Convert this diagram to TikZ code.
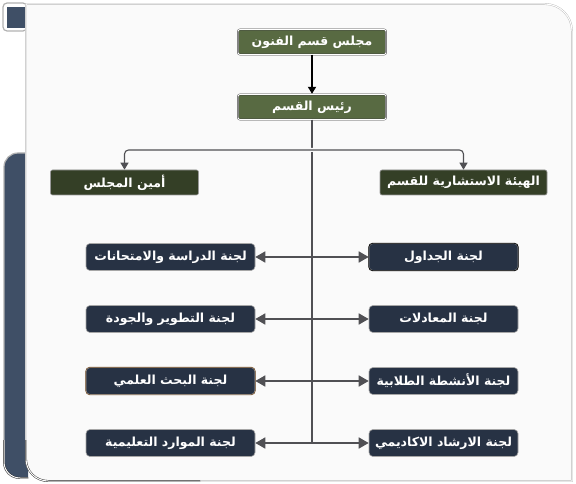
\documentclass[tikz,border=0pt]{standalone}
\usepackage{fontspec}
\newfontfamily\arabicfont[Script=Arabic,BoldFont={DejaVu Sans Bold}]{DejaVu Sans}
\usetikzlibrary{arrows.meta}
\TeXXeTstate=1
\definecolor{boardgreen}{RGB}{88,106,66}
\definecolor{darkolive}{RGB}{52,63,38}
\definecolor{navybox}{RGB}{39,50,68}
\definecolor{panelblue}{RGB}{63,79,102}
\definecolor{linegray}{RGB}{80,80,84}
\definecolor{pagewhite}{RGB}{250,250,250}
\tikzset{>=Triangle}
\tikzset{
  board/.style={draw=black!75, double=white, double distance=0.9pt, fill=boardgreen,
    rounded corners=2pt, minimum width=148pt, minimum height=25pt, text=white,
    font=\arabicfont\bfseries\fontsize{12.5}{14}\selectfont},
  office/.style={board, fill=darkolive, draw=black!40, double=none, line width=0.6pt},
  committee/.style={fill=navybox, draw=gray!70, line width=0.6pt, rounded corners=4pt,
    minimum width=149pt, minimum height=27pt, text=white,
    font=\arabicfont\bfseries\fontsize{12.5}{14}\selectfont},
  link/.style={draw=linegray, line width=1.6pt, {Triangle[length=10pt,width=11pt]}-{Triangle[length=10pt,width=11pt]}}
}
\newcommand{\ar}[1]{\beginR #1\endR}
\begin{document}
\begin{tikzpicture}[x=1pt,y=-1pt]
    \useasboundingbox (0,0) rectangle (576,484);
    % page frame
    \draw[gray!60, line width=1.2pt, fill=white, rounded corners=4pt] (3,3) rectangle (27,31);
    \fill[panelblue] (7,7) rectangle (25,28);
    \draw[gray!60, line width=1.2pt, fill=panelblue, rounded corners=14pt]
        (28,153) -- (4,153) -- (4,478) -- (28,478);
    \draw[black!85, double=white, double distance=1pt]
        (4,440) -- (4,462) arc[start angle=180, end angle=90, radius=16] -- (28,478);
    \draw[gray!55, double=white, double distance=1pt, fill=pagewhite]
        (26,4) -- (545,4) arc[start angle=-90, end angle=0, radius=27] -- (572,481)
        -- (48,481) arc[start angle=90, end angle=180, radius=22] -- cycle;
    \draw[black!85, double=white, double distance=1pt]
        (26,440) -- (26,459) arc[start angle=180, end angle=90, radius=22] -- (200,481);

    % boards
    \node[board] (council) at (312,42) {\ar{مجلس قسم الفنون}};
    \node[board] (head) at (312,107) {\ar{رئيس  القسم}};
    \node[office] (secretary) at (124.5,182.5) {\ar{أمين المجلس}};
    \node[office, minimum width=167pt] (advisory) at (463.5,182.5) {\ar{الهيئة الاستشارية للقسم}};

    % committees
    \foreach \row/\y/\left/\right in {
        1/257/{لجنة الدراسة والامتحانات}/{لجنة الجداول},
        2/319/{لجنة التطوير والجودة}/{لجنة المعادلات},
        3/381/{لجنة البحث العلمي}/{لجنة الأنشطة الطلابية},
        4/443/{لجنة الموارد التعليمية}/{لجنة الارشاد الاكاديمي}}{
        \node[committee, minimum width=169pt] (L\row) at (170.5,\y) {\ar{\left}};
        \node[committee] (R\row) at (443.5,\y) {\ar{\right}};
    }
    \draw[black, line width=0.8pt, rounded corners=4pt] (R1.south west) rectangle (R1.north east);
    \draw[brown!60!black, line width=0.6pt, rounded corners=4pt] (L3.south west) rectangle (L3.north east);

    % connectors
    \draw[->, line width=1.5pt, shorten >=0.5pt] (council) -- (head);
    \draw[linegray, line width=1.3pt] (head.south) -- (head.south |- L4.east);
    \coordinate (split) at (312,150);
    \draw[linegray, line width=1.1pt, rounded corners=4pt, preaction={draw=pagewhite, line width=4pt},
        -{Triangle[length=7pt,width=8pt]}] (split) -| (secretary.north);
    \draw[linegray, line width=1.1pt, rounded corners=4pt, preaction={draw=pagewhite, line width=4pt},
        -{Triangle[length=7pt,width=8pt]}] (split) -| (advisory.north);
    \foreach \row in {1,...,4}
        \draw[link] (L\row.east) -- (R\row.west);
\end{tikzpicture}
\end{document}
